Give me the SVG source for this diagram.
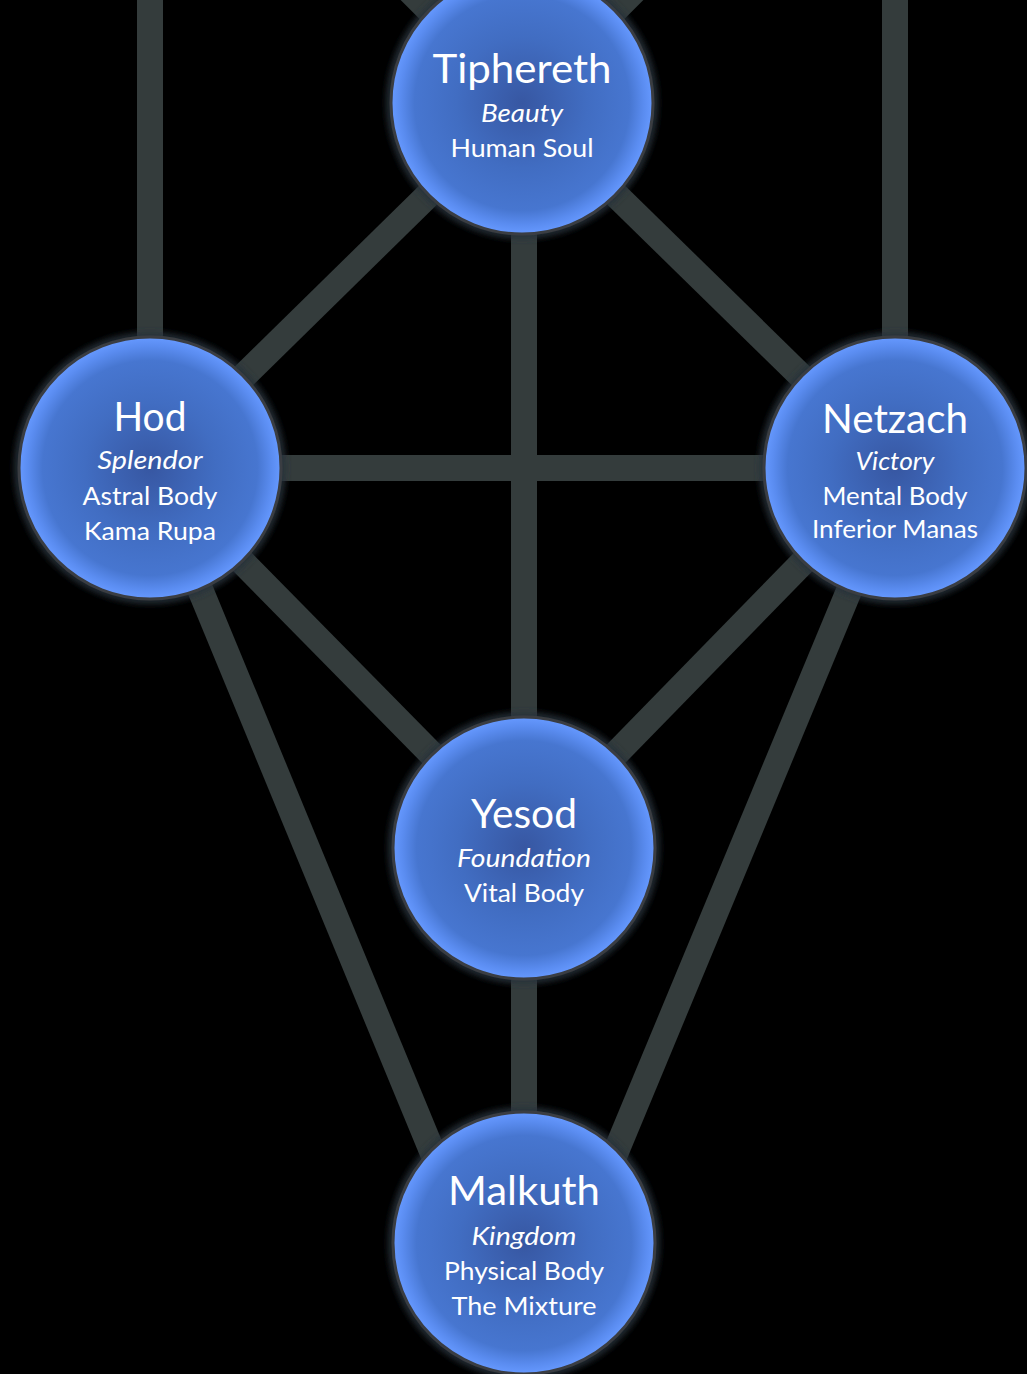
<svg xmlns="http://www.w3.org/2000/svg" width="1027" height="1374" viewBox="0 0 1027 1374">
<defs>
<radialGradient id="sph" cx="50%" cy="50%" r="50%">
<stop offset="0" stop-color="#3757a2"/>
<stop offset="0.5" stop-color="#416dc2"/>
<stop offset="0.82" stop-color="#4776d0"/>
<stop offset="0.93" stop-color="#5a8cf0"/>
<stop offset="1" stop-color="#6699ff"/>
</radialGradient>
<filter id="glow" x="-20%" y="-20%" width="140%" height="140%">
<feGaussianBlur stdDeviation="3"/>
</filter>
<style>
.edge{stroke:#343c3c;stroke-width:26;fill:none;stroke-linecap:butt}
.halo{fill:none;stroke:#28303a;stroke-width:7;filter:url(#glow)}
.ball{fill:url(#sph);stroke:#3a3d42;stroke-width:3}
text{fill:#ffffff;font-family:Lato,"Open Sans","Liberation Sans",sans-serif;text-anchor:middle}
.t{font-size:41px}
.s{font-size:25px}
.i{font-size:25px;font-style:italic}
</style>
</defs>
<rect width="1027" height="1374" fill="#000000"/>
<g id="connectors">
<line class="edge" x1="150" y1="-10" x2="150" y2="468"/>
<line class="edge" x1="895" y1="-10" x2="895" y2="468"/>
<line class="edge" x1="522" y1="103" x2="380" y2="-39"/>
<line class="edge" x1="522" y1="103" x2="664" y2="-39"/>
<line class="edge" x1="522" y1="103" x2="150" y2="468"/>
<line class="edge" x1="522" y1="103" x2="895" y2="468"/>
<line class="edge" x1="524" y1="103" x2="524" y2="1243"/>
<line class="edge" x1="150" y1="468" x2="895" y2="468"/>
<line class="edge" x1="150" y1="468" x2="524" y2="848"/>
<line class="edge" x1="895" y1="468" x2="524" y2="848"/>
<line class="edge" x1="150" y1="468" x2="470" y2="1243"/>
<line class="edge" x1="900" y1="468" x2="578" y2="1243"/>
</g>
<g id="tiphereth">
<circle class="halo" cx="522" cy="103" r="132"/>
<circle class="ball" cx="522" cy="103" r="131"/>
<text class="t" x="522" y="83" textLength="179" lengthAdjust="spacingAndGlyphs">Tiphereth</text>
<text class="i" x="522" y="122" textLength="82" lengthAdjust="spacingAndGlyphs">Beauty</text>
<text class="s" x="522" y="157" textLength="143" lengthAdjust="spacingAndGlyphs">Human Soul</text>
</g>
<g id="hod">
<circle class="halo" cx="150" cy="468" r="132"/>
<circle class="ball" cx="150" cy="468" r="131"/>
<text class="t" x="150" y="431" textLength="73" lengthAdjust="spacingAndGlyphs">Hod</text>
<text class="i" x="150" y="469" textLength="105" lengthAdjust="spacingAndGlyphs">Splendor</text>
<text class="s" x="150" y="505" textLength="135" lengthAdjust="spacingAndGlyphs">Astral Body</text>
<text class="s" x="150" y="540" textLength="132" lengthAdjust="spacingAndGlyphs">Kama Rupa</text>
</g>
<g id="netzach">
<circle class="halo" cx="895" cy="468" r="132"/>
<circle class="ball" cx="895" cy="468" r="131"/>
<text class="t" x="895" y="433" textLength="146" lengthAdjust="spacingAndGlyphs">Netzach</text>
<text class="i" x="895" y="470" textLength="79" lengthAdjust="spacingAndGlyphs">Victory</text>
<text class="s" x="895" y="505" textLength="145" lengthAdjust="spacingAndGlyphs">Mental Body</text>
<text class="s" x="895" y="538" textLength="166" lengthAdjust="spacingAndGlyphs">Inferior Manas</text>
</g>
<g id="yesod">
<circle class="halo" cx="524" cy="848" r="132"/>
<circle class="ball" cx="524" cy="848" r="131"/>
<text class="t" x="524" y="828" textLength="106" lengthAdjust="spacingAndGlyphs">Yesod</text>
<text class="i" x="524" y="867" textLength="134" lengthAdjust="spacingAndGlyphs">Foundation</text>
<text class="s" x="524" y="902" textLength="120" lengthAdjust="spacingAndGlyphs">Vital Body</text>
</g>
<g id="malkuth">
<circle class="halo" cx="524" cy="1243" r="132"/>
<circle class="ball" cx="524" cy="1243" r="131"/>
<text class="t" x="524" y="1205" textLength="152" lengthAdjust="spacingAndGlyphs">Malkuth</text>
<text class="i" x="524" y="1245" textLength="105" lengthAdjust="spacingAndGlyphs">Kingdom</text>
<text class="s" x="524" y="1280" textLength="160" lengthAdjust="spacingAndGlyphs">Physical Body</text>
<text class="s" x="524" y="1315" textLength="145" lengthAdjust="spacingAndGlyphs">The Mixture</text>
</g>
</svg>
